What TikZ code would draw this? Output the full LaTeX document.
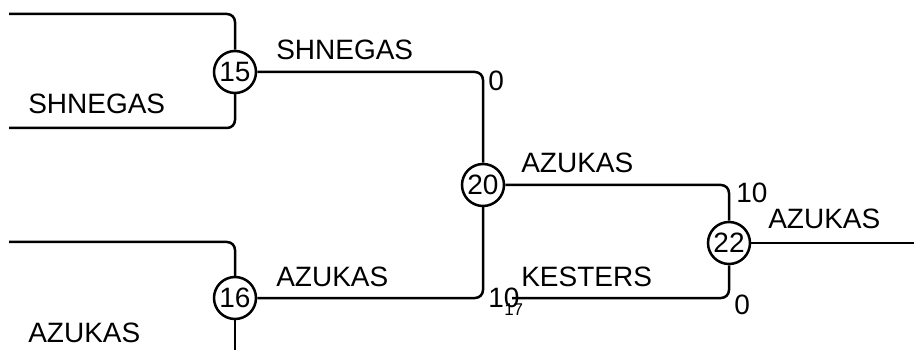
\documentclass[tikz,border=0pt]{standalone}
\usepackage{fontspec}
\setmainfont{Liberation Sans}
\usetikzlibrary{calc}
\begin{document}
\begin{tikzpicture}[x=1pt,y=-1pt,line width=2.5pt,
    game/.style={circle,draw,minimum size=42pt,inner sep=0pt,font=\fontsize{28}{30}\selectfont},
    team/.style={anchor=base west,inner sep=0pt,font=\fontsize{28}{30}\selectfont},
    small/.style={anchor=base west,inner sep=0pt,font=\fontsize{17}{18}\selectfont}]
    \useasboundingbox (0,0) rectangle (914,350);
    \node[game] (g15) at (235,72) {15};
    \node[game] (g16) at (235,298) {16};
    \node[game] (g20) at (483,185) {20};
    \node[game] (g22) at (729,243) {22};
    \coordinate (top15) at (9,14);
    \coordinate (bot15) at (9,128);
    \coordinate (top16) at (9,242);
    \coordinate (bot16) at (235,352);
    \coordinate (t17) at (512,298);
    \coordinate (champ) at (916,243);

    \begin{scope}[rounded corners=8pt]
    \draw (top15) -| (g15);
    \draw (bot15) -| (g15);
    \draw (top16) -| (g16);
    \draw (g16) -- (bot16);
    \draw (g15) -| (g20);
    \draw (g16) -| (g20);
    \draw (g20) -| (g22);
    \draw (t17) -| (g22);
    \draw (g22) -- (champ);
    \end{scope}

    \node[team] (lab15a) at (27,114) {SHNEGAS};
    \node[team] (lab15b) at (275,60) {SHNEGAS};
    \node[team] (lab16a) at (27,342) {AZUKAS};
    \node[team] (lab16b) at (275,287) {AZUKAS};
    \node[team] (lab20) at (520,173) {AZUKAS};
    \node[team] (lab17) at (520,287) {KESTERS};
    \node[team] (lab22) at (767,229) {AZUKAS};

    \node[team] (s15) at (487,91) {0};
    \node[team] (s16) at (487,307) {10};
    \node[small] (s17) at (503,315) {17};
    \node[team] (s20) at (735,203) {10};
    \node[team] (s22) at (733,314) {0};
\end{tikzpicture}
\end{document}
